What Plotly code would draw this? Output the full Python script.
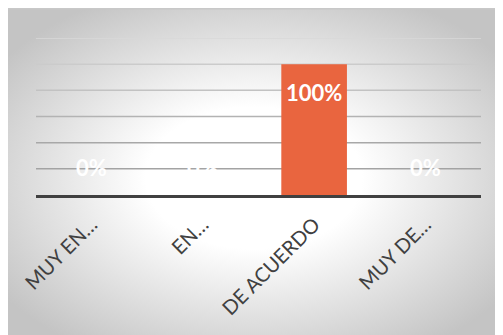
import base64
import plotly.graph_objects as go

# datos del gráfico
categorias = ["MUY EN DESACUERDO", "EN DESACUERDO", "DE ACUERDO", "MUY DE ACUERDO"]
etiquetas_eje = ["MUY EN…", "EN…", "DE ACUERDO", "MUY DE…"]
porcentajes = [0.0, 0.0, 1.0, 0.0]
ticks_y = [0.2, 0.4, 0.6, 0.8, 1.0, 1.2]

# la página tiene 8 px de margen, así que la figura es algo más pequeña
W, H = 495, 327
L, R, T, B = 28, 22, 30, 140
pw, ph = W - L - R, H - T - B

# fondo con degradado radial (como en Excel)
svg = """<svg xmlns='http://www.w3.org/2000/svg' width='498' height='327' preserveAspectRatio='none'>
<defs><radialGradient id='g' cx='0.5' cy='0.52' r='0.62'>
<stop offset='0' stop-color='#ffffff'/><stop offset='0.35' stop-color='#ffffff'/>
<stop offset='1' stop-color='#c4c4c4'/></radialGradient></defs>
<rect width='498' height='327' fill='url(#g)'/></svg>"""
src = "data:image/svg+xml;base64," + base64.b64encode(svg.encode()).decode()


def px_x(x):
    return (x - L) / pw


def px_y(y):
    return (H - B - y) / ph


fig = go.Figure()
fig.add_trace(go.Bar(
    x=categorias,
    y=porcentajes,
    marker=dict(color="#E9653F", line=dict(width=0)),
    width=0.59,
    hoverinfo="skip",
))

# líneas de cuadrícula con tono degradado
grises = ["#a3a3a3", "#a8a8a8", "#b3b3b3", "#c2c2c2", "#cbcbcb", "#d9d9d9"]
for v, c in zip(ticks_y, grises):
    fig.add_shape(type="line", xref="paper", yref="y", x0=0, x1=1, y0=v, y1=v,
                  line=dict(color=c, width=1.5), layer="below")

# etiquetas de datos
for cat, val in zip(categorias, porcentajes):
    dentro = val > 0
    fig.add_annotation(
        x=cat, y=val, text=f"<b>{val:.0%}</b>", showarrow=False,
        yanchor="top" if dentro else "bottom",
        yshift=-13 if dentro else 12,
        font=dict(family="Lato", size=22, color="white"),
    )

fig.add_layout_image(
    source=src, xref="paper", yref="paper",
    x=px_x(-3), y=px_y(0), sizex=px_x(W) - px_x(-3), sizey=px_y(0) - px_y(H),
    xanchor="left", yanchor="top", sizing="stretch", layer="below",
)
fig.add_shape(type="rect", xref="paper", yref="paper",
              x0=px_x(-3), x1=px_x(W + 2), y0=px_y(0.7), y1=px_y(H + 2),
              line=dict(color="#c8c8c8", width=1.5), layer="below")

fig.update_layout(
    width=W, height=H,
    margin=dict(l=L, r=R, t=T, b=B, autoexpand=False),
    paper_bgcolor="white",
    plot_bgcolor="rgba(0,0,0,0)",
    showlegend=False,
    bargap=0.41,
    xaxis=dict(
        tickmode="array", tickvals=categorias, ticktext=etiquetas_eje,
        tickangle=-45, showgrid=False, ticks="", automargin=False,
        showline=True, linecolor="#404040", linewidth=3,
        tickfont=dict(family="Lato", size=20, color="#404040"),
        ticklabelstandoff=7,
    ),
    yaxis=dict(range=[0, 1.2], showgrid=False, showticklabels=False,
               zeroline=False, fixedrange=True, automargin=False),
)

fig.write_html("out.html")
